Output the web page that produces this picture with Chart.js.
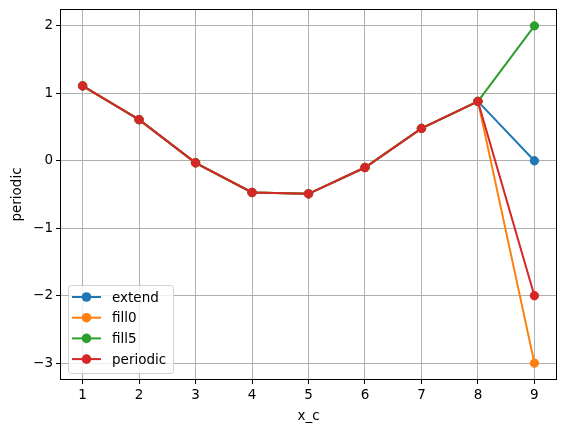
<!DOCTYPE html>
<html>
<head>
<meta charset="utf-8">
<script src="https://cdn.jsdelivr.net/npm/chart.js@4/dist/chart.umd.min.js"></script>
<style>
  html, body { margin: 0; padding: 0; background: #fff; }
  #wrap { width: 565px; height: 432px; }
</style>
</head>
<body>
<div id="wrap"><canvas id="grafico"></canvas></div>
<script>
// Dados
const xC = [1, 2, 3, 4, 5, 6, 7, 8, 9];
const extend = [1.11, 0.61, -0.03, -0.47, -0.49, -0.10, 0.48, 0.88, 0];
const fill0 = [1.11, 0.61, -0.03, -0.47, -0.49, -0.10, 0.48, 0.88, -3];
const fill5 = [1.11, 0.61, -0.03, -0.47, -0.49, -0.10, 0.48, 0.88, 2];
const periodic = [1.11, 0.61, -0.03, -0.47, -0.49, -0.10, 0.48, 0.88, -2];
const yTicks = [-3, -2, -1, 0, 1, 2];

const series = [
  { label: 'extend', values: extend, cor: '#1f77b4' },
  { label: 'fill0', values: fill0, cor: '#ff7f0e' },
  { label: 'fill5', values: fill5, cor: '#2ca02c' },
  { label: 'periodic', values: periodic, cor: '#d62728' }
];

const fonte = { family: 'DejaVu Sans', size: 13.5 };

// Moldura e legenda desenhadas à mão (estilo matplotlib)
const molduraLegenda = {
  id: 'molduraLegenda',
  afterDatasetsDraw(chart) {
    const { ctx, chartArea: a } = chart;
    ctx.save();
    ctx.strokeStyle = '#000';
    ctx.lineWidth = 1;
    ctx.strokeRect(Math.round(a.left) + 0.5, Math.round(a.top) + 0.5,
      Math.round(a.right - a.left) - 1, Math.round(a.bottom - a.top) - 1);

    // legenda
    const x0 = a.left + 8, y0 = a.bottom - 95;
    const w = 105, h = 88;
    ctx.fillStyle = 'rgba(255,255,255,0.8)';
    ctx.strokeStyle = '#d0d0d0';
    ctx.lineWidth = 1;
    ctx.beginPath();
    ctx.roundRect(x0 + 0.5, y0 + 0.5, w, h, 3);
    ctx.fill();
    ctx.stroke();
    chart.data.datasets.forEach((ds, i) => {
      const y = y0 + 12 + i * 20.7;
      ctx.strokeStyle = ds.borderColor;
      ctx.lineWidth = 2;
      ctx.beginPath();
      ctx.moveTo(x0 + 4, y);
      ctx.lineTo(x0 + 33, y);
      ctx.stroke();
      ctx.fillStyle = ds.borderColor;
      ctx.beginPath();
      ctx.arc(x0 + 18.5, y, 4.8, 0, Math.PI * 2);
      ctx.fill();
      ctx.fillStyle = '#000';
      ctx.font = '13.5px "DejaVu Sans"';
      ctx.textBaseline = 'middle';
      ctx.fillText(ds.label, x0 + 44, y + 1);
    });
    ctx.restore();
  }
};

new Chart(document.getElementById('grafico'), {
  type: 'line',
  data: {
    labels: xC,
    datasets: series.map((s, i) => ({
      label: s.label,
      data: xC.map((x, j) => ({ x: x, y: s.values[j] })),
      borderColor: s.cor,
      backgroundColor: s.cor,
      borderWidth: 2,
      pointRadius: 4.2,
      pointBorderWidth: 1,
      pointHoverRadius: 4.2,
      tension: 0,
      order: series.length - i
    }))
  },
  options: {
    responsive: true,
    maintainAspectRatio: false,
    animation: false,
    layout: { padding: { top: 9, right: 8, left: 0, bottom: 0 } },
    plugins: { legend: { display: false }, tooltip: { enabled: false } },
    scales: {
      x: {
        type: 'linear',
        min: 0.6,
        max: 9.4,
        afterBuildTicks: (scale) => { scale.ticks = xC.map(v => ({ value: v })); },
        afterFit: (scale) => {
          scale.height = 52;
          scale.paddingLeft = 0; scale.paddingRight = 0;
        },
        grid: { color: '#b0b0b0', tickColor: '#000', tickLength: 4, lineWidth: 1 },
        border: { display: false },
        ticks: { color: '#000', font: fonte, padding: 3, maxRotation: 0 },
        title: { display: true, text: 'x_c', color: '#000', font: fonte, padding: { top: 0, bottom: 7 } }
      },
      y: {
        min: -3.25,
        max: 2.25,
        afterBuildTicks: (scale) => { scale.ticks = yTicks.map(v => ({ value: v })); },
        afterFit: (scale) => {
          scale.width = 60;
          scale.paddingTop = 0; scale.paddingBottom = 0;
        },
        grid: { color: '#b0b0b0', tickColor: '#000', tickLength: 4, lineWidth: 1 },
        border: { display: false },
        ticks: {
          color: '#000', font: fonte, padding: 3,
          callback: (v) => (v < 0 ? '\u2212' + Math.abs(v) : String(v))
        },
        title: { display: true, text: 'periodic', color: '#000', font: fonte, padding: { top: 9, bottom: 0 } }
      }
    }
  },
  plugins: [molduraLegenda]
});
</script>
</body>
</html>
